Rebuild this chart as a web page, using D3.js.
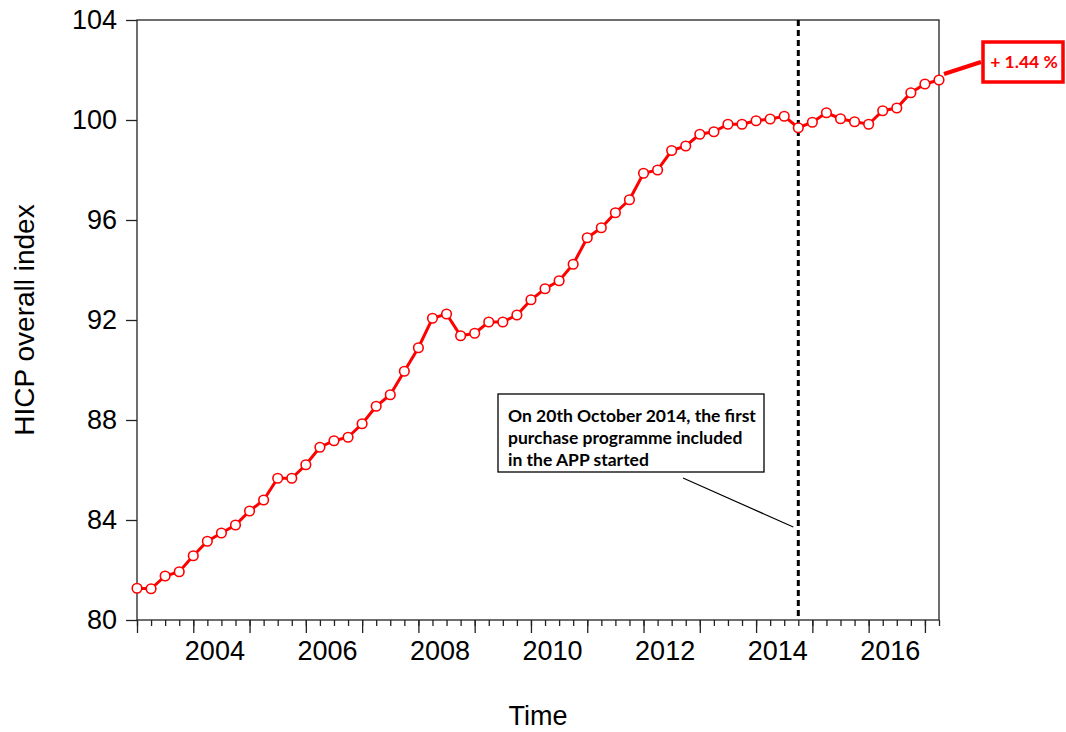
<!DOCTYPE html>
<html>
<head>
<meta charset="utf-8">
<script src="https://cdn.jsdelivr.net/npm/d3@7"></script>
<style>
  body { margin: 0; background: #fff; }
  svg { display: block; }
  .axis text { font-family: "Liberation Sans", Arial, sans-serif; font-size: 27px; fill: #000; }
  .axis path, .axis line { stroke: #222; stroke-width: 1.3; }
</style>
</head>
<body>
<svg id="chart" width="1066" height="732"></svg>
<script>
// HICP overall index, quarterly, 2003Q1 - 2017Q2
var firstYear = 2003;
var hicp = [
  81.27, 81.25, 81.76, 81.93,
  82.57, 83.15, 83.48, 83.80,
  84.36, 84.80, 85.67, 85.67,
  86.21, 86.91, 87.17, 87.31,
  87.85, 88.55, 89.01, 89.95,
  90.89, 92.07, 92.24, 91.37,
  91.47, 91.92, 91.92, 92.20,
  92.81, 93.25, 93.57, 94.23,
  95.29, 95.69, 96.29, 96.81,
  97.87, 98.00, 98.78, 98.96,
  99.43, 99.53, 99.83, 99.83,
  99.97, 100.04, 100.15, 99.69,
  99.91, 100.29, 100.05, 99.93,
  99.83, 100.37, 100.48, 101.09,
  101.44, 101.60
];
var yTicks = [80, 84, 88, 92, 96, 100, 104];
var yearTicks = [2003, 2004, 2005, 2006, 2007, 2008, 2009, 2010, 2011, 2012, 2013, 2014, 2015, 2016, 2017];
var yearLabels = [2004, 2006, 2008, 2010, 2012, 2014, 2016];
var appStart = 2014.75;   // 2014Q4, first APP purchase programme
var noteLines = ["On 20th October 2014, the first", "purchase programme included", "in the APP started"];
var changeLabel = "+ 1.44 %";

var svg = d3.select("#chart"),
    margin = {top: 20, right: 127, bottom: 112, left: 137},
    w = +svg.attr("width") - margin.left - margin.right,
    h = +svg.attr("height") - margin.top - margin.bottom;

var data = hicp.map(function(v, i) { return {t: firstYear + i / 4, v: v}; });

var x = d3.scaleLinear().domain([firstYear, firstYear + (hicp.length - 1) / 4]).range([0, w]);
var y = d3.scaleLinear().domain([80, 104]).range([h, 0]);

var g = svg.append("g")
    .attr("transform", "translate(" + margin.left + "," + margin.top + ")");

// frame
g.append("rect")
    .attr("width", w).attr("height", h)
    .attr("fill", "none").attr("stroke", "#222").attr("stroke-width", 1.3);

// y axis
g.append("g")
    .attr("class", "axis")
    .call(d3.axisLeft(y).tickValues(yTicks).tickSize(11).tickPadding(9))
    .call(function(s) { s.select(".domain").remove(); });

// x axis: quarterly minor ticks, yearly major ticks, labels centred on the year
var quarters = data.map(function(d) { return d.t; });
g.append("g")
    .attr("class", "axis")
    .attr("transform", "translate(0," + h + ")")
    .call(d3.axisBottom(x).tickValues(quarters).tickSize(6).tickFormat(""))
    .call(function(s) { s.select(".domain").remove(); });

g.append("g")
    .attr("class", "axis")
    .attr("transform", "translate(0," + h + ")")
    .call(d3.axisBottom(x).tickValues(yearTicks).tickSize(13).tickFormat(""))
    .call(function(s) { s.select(".domain").remove(); });

g.append("g")
    .attr("class", "axis")
    .attr("transform", "translate(0," + h + ")")
    .call(d3.axisBottom(x).tickValues(yearLabels.map(function(yr) { return yr + 0.375; }))
      .tickSize(0).tickPadding(21).tickFormat(function(d) { return Math.floor(d); }))
    .call(function(s) { s.select(".domain").remove(); });

// axis titles
svg.append("text")
    .attr("transform", "translate(34," + (margin.top + h / 2) + ") rotate(-90)")
    .attr("text-anchor", "middle")
    .style("font-family", "'Liberation Sans', Arial, sans-serif")
    .style("font-size", "28px")
    .text("HICP overall index");

svg.append("text")
    .attr("x", margin.left + w / 2)
    .attr("y", 725)
    .attr("text-anchor", "middle")
    .style("font-family", "'Liberation Sans', Arial, sans-serif")
    .style("font-size", "27px")
    .text("Time");

// APP start marker
g.append("line")
    .attr("x1", x(appStart)).attr("x2", x(appStart))
    .attr("y1", 0).attr("y2", h)
    .attr("stroke", "#000").attr("stroke-width", 3)
    .attr("stroke-dasharray", "6,4");

// series
var line = d3.line()
    .x(function(d) { return x(d.t); })
    .y(function(d) { return y(d.v); });

g.append("path")
    .datum(data)
    .attr("d", line)
    .attr("fill", "none")
    .attr("stroke", "#f00")
    .attr("stroke-width", 3);

g.selectAll(".dot")
    .data(data)
  .enter().append("circle")
    .attr("class", "dot")
    .attr("cx", function(d) { return x(d.t); })
    .attr("cy", function(d) { return y(d.v); })
    .attr("r", 4.8)
    .attr("fill", "#fff")
    .attr("stroke", "#f00")
    .attr("stroke-width", 1.6);

// annotation box
var note = svg.append("g");
note.append("rect")
    .attr("x", 498).attr("y", 394).attr("width", 266).attr("height", 78)
    .attr("fill", "#fff").attr("stroke", "#000").attr("stroke-width", 1.3);
note.selectAll("text")
    .data(noteLines)
  .enter().append("text")
    .attr("x", 508)
    .attr("y", function(d, i) { return 422 + i * 22; })
    .style("font-family", "Lato, 'Open Sans', sans-serif")
    .style("font-weight", "bold")
    .style("font-size", "17.5px")
    .text(function(d) { return d; });
note.append("line")
    .attr("x1", 683).attr("y1", 478)
    .attr("x2", margin.left + x(appStart) - 5).attr("y2", 527)
    .attr("stroke", "#000").attr("stroke-width", 1.2);

// change callout
var last = data[data.length - 1];
var call = svg.append("g");
call.append("line")
    .attr("x1", margin.left + x(last.t) + 5).attr("y1", margin.top + y(last.v) - 6)
    .attr("x2", 981).attr("y2", 62)
    .attr("stroke", "#f00").attr("stroke-width", 4);
call.append("rect")
    .attr("x", 983).attr("y", 42).attr("width", 80).attr("height", 40)
    .attr("fill", "#fff").attr("stroke", "#f00").attr("stroke-width", 3.5);
call.append("text")
    .attr("x", 1024).attr("y", 68)
    .attr("text-anchor", "middle")
    .style("font-family", "Lato, 'Open Sans', sans-serif")
    .style("font-weight", "bold")
    .style("font-size", "17.5px")
    .attr("fill", "#f00")
    .text(changeLabel);
</script>
</body>
</html>
